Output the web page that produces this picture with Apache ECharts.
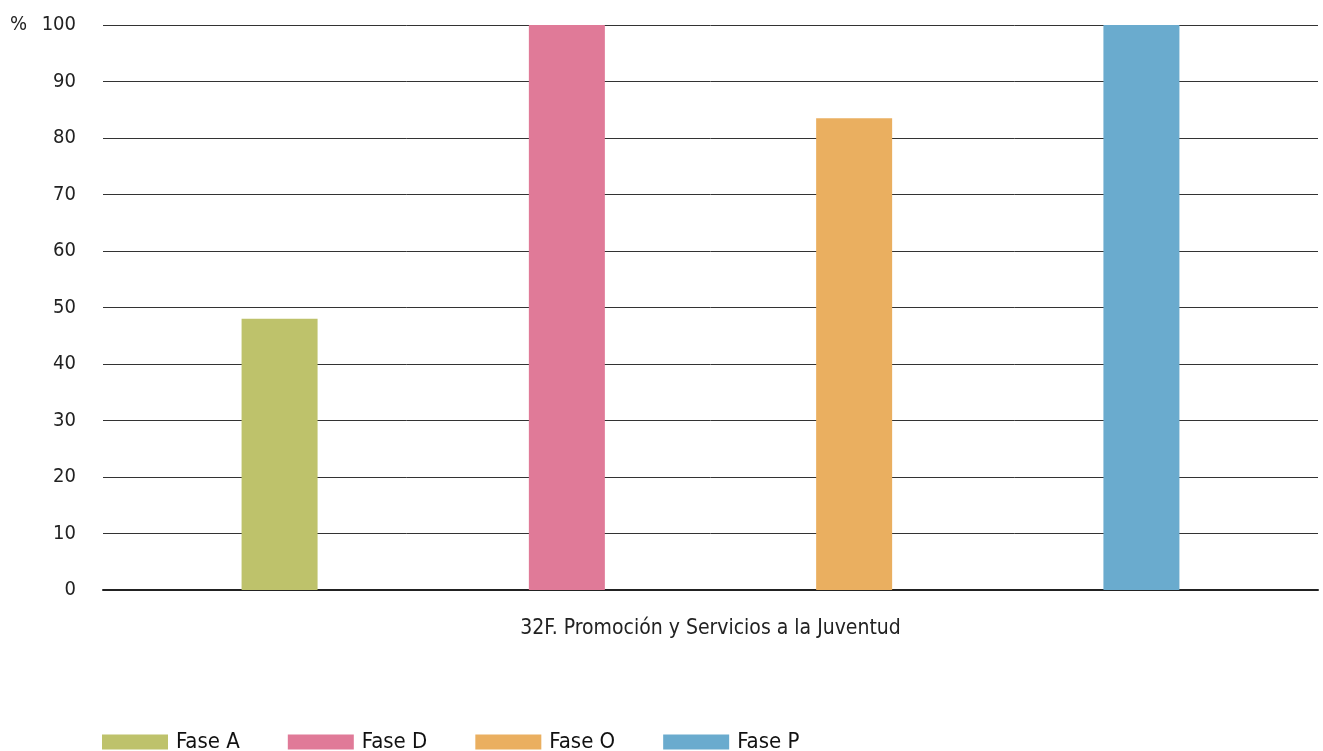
<!DOCTYPE html>
<html><head><meta charset="utf-8">
<script src="https://cdn.jsdelivr.net/npm/echarts@6/dist/echarts.min.js"></script>
<style>html,body{margin:0;padding:0;background:#fff}#c{width:1323px;height:751px}</style>
</head><body><div id="c"></div>
<script>
const categories = ['32F. Promoción y Servicios a la Juventud'];
const seriesNames = ['Fase A', 'Fase D', 'Fase O', 'Fase P'];
const seriesValues = [[48], [100], [83.5], [100]];
const colors = ['#bec26b', '#e07a98', '#eaaf60', '#6aabce'];
const yTicks = { min: 0, max: 100, interval: 10 };
const FONT = '"Liberation Sans Narrow", "DejaVu Sans Condensed", Roboto';
const chart = echarts.init(document.getElementById('c'));
chart.setOption({
  animation: false,
  textStyle: { fontFamily: FONT },
  grid: { left: 103, right: 5, top: 25, bottom: 161, containLabel: false },
  graphic: [{ type: 'text', left: 10, top: 15, style: { text: '%', fontSize: 20, fill: '#222', fontFamily: FONT } }],
  legend: {
    left: 97, top: 726, itemWidth: 66, itemHeight: 15, itemGap: 48,
    icon: 'rect',
    textStyle: { fontSize: 22, color: '#111', fontFamily: FONT, padding: [0, 0, 0, 3] },
    data: seriesNames
  },
  xAxis: {
    type: 'category', data: categories,
    axisLine: { lineStyle: { color: '#222', width: 2 } },
    axisTick: { show: false },
    axisLabel: { fontSize: 21, color: '#222', margin: 28, fontFamily: FONT }
  },
  yAxis: {
    type: 'value', min: yTicks.min, max: yTicks.max, interval: yTicks.interval,
    axisLine: { show: false }, axisTick: { show: false },
    splitLine: { lineStyle: { color: '#333', width: 1 } },
    axisLabel: { fontSize: 20, color: '#222', margin: 27, fontFamily: FONT, padding: [3, 0, 0, 0] }
  },
  series: seriesNames.map((n, i) => ({
    name: n, type: 'bar', data: seriesValues[i], barWidth: 76, barGap: '278%',
    itemStyle: { color: colors[i] }
  }))
});
</script></body></html>
